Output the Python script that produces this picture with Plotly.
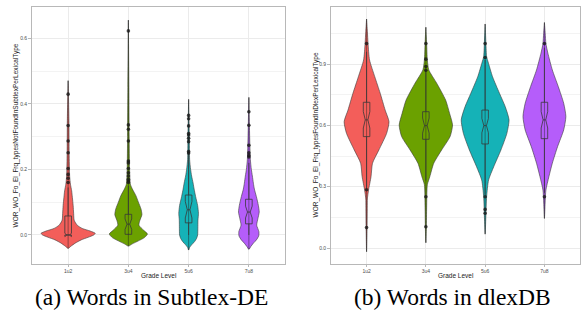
import plotly.graph_objects as go

W, H = 587, 327

grades = ["1u2", "3u4", "5u6", "7u8"]
fills = ["#F35E5A", "#6BA100", "#15B2B7", "#B55DFA"]

# ---- (a) share of word types not found in Subtlex-DE ----
# violin outlines: value and kernel density (arbitrary units)
sub_v_1u2 = [-0.041, -0.035, -0.025, -0.015, -0.007, 0.0, 0.005, 0.012, 0.02, 0.03, 0.045, 0.065, 0.09, 0.115, 0.135, 0.155, 0.18, 0.25, 0.35, 0.471]
sub_d_1u2 = [0, 2.5, 7, 13, 20, 25.5, 27, 22, 14, 9, 6, 5.5, 5, 4.2, 3.5, 2.3, 1.5, 1, 0.8, 0]
sub_v_3u4 = [-0.034, -0.027, -0.018, -0.008, 0.003, 0.015, 0.03, 0.045, 0.062, 0.08, 0.1, 0.12, 0.14, 0.155, 0.2, 0.3, 0.45, 0.656]
sub_d_3u4 = [0, 4, 10, 16, 19, 15, 10.5, 11.5, 13.5, 12.5, 10, 7.5, 4, 2, 1.2, 0.8, 0.5, 0]
sub_v_5u6 = [-0.046, -0.038, -0.03, -0.02, -0.01, 0.0, 0.02, 0.045, 0.066, 0.09, 0.117, 0.14, 0.158, 0.18, 0.2, 0.23, 0.3, 0.414]
sub_d_5u6 = [0, 1, 3, 6, 8, 9, 9.2, 9.3, 9.8, 9, 7, 5.5, 4.5, 3, 2, 1, 0.7, 0]
sub_v_7u8 = [-0.044, -0.035, -0.025, -0.015, -0.003, 0.01, 0.03, 0.05, 0.07, 0.09, 0.117, 0.14, 0.158, 0.18, 0.2, 0.23, 0.3, 0.42]
sub_d_7u8 = [0, 2, 4.5, 7.5, 9.8, 10, 7.8, 9, 10.3, 9.5, 7.5, 5.5, 4.5, 3.5, 2.5, 1.5, 0.8, 0]

# notched box statistics
sub_q1 = [0.0, 0.002, 0.037, 0.034]
sub_med = [0.0, 0.033, 0.077, 0.070]
sub_q3 = [0.058, 0.063, 0.122, 0.109]
sub_lo = [0.0, 0.0, 0.0, 0.0]
sub_hi = [0.145, 0.15, 0.25, 0.22]
sub_notch = [0.005, 0.016, 0.025, 0.018]

# outliers
sub_out_1u2 = [0.16, 0.173, 0.185, 0.203, 0.251, 0.287, 0.334, 0.43]
sub_out_3u4 = [0.16, 0.165, 0.17, 0.18, 0.19, 0.203, 0.22, 0.226, 0.287, 0.323, 0.336, 0.623]
sub_out_5u6 = [0.25, 0.255, 0.285, 0.295, 0.305, 0.31, 0.333, 0.355, 0.365]
sub_out_7u8 = [0.238, 0.243, 0.251, 0.274, 0.335, 0.376]

# ---- (b) share of word types found in dlexDB ----
dlx_v_1u2 = [-0.018, 0.1, 0.2, 0.24, 0.284, 0.349, 0.415, 0.48, 0.561, 0.618, 0.675, 0.757, 0.838, 0.92, 1.0, 1.06, 1.12]
dlx_d_1u2 = [0, 0.5, 0.7, 0.8, 2, 4.5, 6, 12.5, 20.3, 22.7, 18.8, 13.8, 8.3, 3, 1.5, 0.8, 0]
dlx_v_3u4 = [0.026, 0.1, 0.2, 0.31, 0.349, 0.415, 0.48, 0.545, 0.602, 0.659, 0.724, 0.806, 0.871, 0.92, 1.0, 1.08]
dlx_d_3u4 = [0, 0.5, 0.8, 1.5, 4, 8, 16, 24.5, 27, 24, 20, 11, 3, 1.5, 0.8, 0]
dlx_v_5u6 = [0.068, 0.15, 0.251, 0.333, 0.398, 0.48, 0.561, 0.627, 0.692, 0.757, 0.838, 0.91, 0.936, 1.0, 1.096]
dlx_d_5u6 = [0, 0.7, 1.5, 3.5, 8.7, 16, 22, 24.2, 20.3, 14.5, 7.5, 3, 1.5, 0.8, 0]
dlx_v_7u8 = [0.145, 0.22, 0.284, 0.349, 0.415, 0.496, 0.578, 0.643, 0.708, 0.79, 0.871, 0.953, 1.0, 1.05, 1.103]
dlx_d_7u8 = [0, 0.7, 1.5, 4.5, 8, 13.3, 19.5, 21.7, 19.5, 14, 8, 3.5, 1.5, 0.8, 0]

dlx_q1 = [0.545, 0.532, 0.509, 0.535]
dlx_med = [0.627, 0.599, 0.599, 0.627]
dlx_q3 = [0.713, 0.667, 0.675, 0.713]
dlx_lo = [0.293, 0.33, 0.26, 0.27]
dlx_hi = [0.96, 0.87, 0.92, 0.98]
dlx_notch = [0.04, 0.037, 0.035, 0.04]

dlx_out_1u2 = [0.1, 0.285, 1.0]
dlx_out_3u4 = [0.104, 0.251, 0.87, 0.888, 0.924, 1.0]
dlx_out_5u6 = [0.17, 0.189, 0.251, 0.932, 1.0]
dlx_out_7u8 = [0.251, 1.0]

DENS_SCALE = 1 / 60.0      # density units -> category-axis units
BOX_HALF = 0.055           # half width of the notched box, category units
NOTCH_DEPTH = 0.4          # notch indent as a fraction of the box half width

panels = [
    dict(ax="x", ay="y",
         vals=[sub_v_1u2, sub_v_3u4, sub_v_5u6, sub_v_7u8],
         dens=[sub_d_1u2, sub_d_3u4, sub_d_5u6, sub_d_7u8],
         q1=sub_q1, med=sub_med, q3=sub_q3, lo=sub_lo, hi=sub_hi, notch=sub_notch,
         outs=[sub_out_1u2, sub_out_3u4, sub_out_5u6, sub_out_7u8]),
    dict(ax="x2", ay="y2",
         vals=[dlx_v_1u2, dlx_v_3u4, dlx_v_5u6, dlx_v_7u8],
         dens=[dlx_d_1u2, dlx_d_3u4, dlx_d_5u6, dlx_d_7u8],
         q1=dlx_q1, med=dlx_med, q3=dlx_q3, lo=dlx_lo, hi=dlx_hi, notch=dlx_notch,
         outs=[dlx_out_1u2, dlx_out_3u4, dlx_out_5u6, dlx_out_7u8]),
]

fig = go.Figure()
edge = "#383838"

for p in panels:
    for i, g in enumerate(grades):
        cx = i + 1
        v, d = p["vals"][i], p["dens"][i]
        xs = [cx + w * DENS_SCALE for w in d] + [cx - w * DENS_SCALE for w in reversed(d)]
        ys = list(v) + list(reversed(v))
        fig.add_trace(go.Scatter(
            x=xs, y=ys, mode="lines", fill="toself", fillcolor=fills[i],
            line=dict(color="#3a3a3a", width=0.6, shape="spline", smoothing=0.6),
            hoverinfo="skip", xaxis=p["ax"], yaxis=p["ay"]))
        # full-range spine through the violin
        fig.add_trace(go.Scatter(
            x=[cx, cx], y=[v[0], v[-1]], mode="lines",
            line=dict(color="rgba(30,30,30,0.6)", width=0.75),
            hoverinfo="skip", xaxis=p["ax"], yaxis=p["ay"]))

        # notched box with whiskers
        q1, md, q3 = p["q1"][i], p["med"][i], p["q3"][i]
        lo, hi, nh = p["lo"][i], p["hi"][i], p["notch"][i]
        b, n = BOX_HALF, BOX_HALF * NOTCH_DEPTH
        bx = [cx - b, cx + b, cx + b, cx + n, cx + b, cx + b,
              cx - b, cx - b, cx - n, cx - b, cx - b]
        by = [q1, q1, md - nh, md, md + nh, q3,
              q3, md + nh, md, md - nh, q1]
        fig.add_trace(go.Scatter(
            x=bx, y=by, mode="lines", line=dict(color=edge, width=0.8),
            hoverinfo="skip", xaxis=p["ax"], yaxis=p["ay"]))
        fig.add_trace(go.Scatter(
            x=[cx - n, cx + n, None, cx, cx, None, cx, cx],
            y=[md, md, None, q3, hi, None, q1, lo],
            mode="lines", line=dict(color=edge, width=0.8),
            hoverinfo="skip", xaxis=p["ax"], yaxis=p["ay"]))

        fig.add_trace(go.Scatter(
            x=[cx] * len(p["outs"][i]), y=p["outs"][i], mode="markers",
            marker=dict(size=3.6, color="rgba(25,25,25,0.8)"),
            xaxis=p["ax"], yaxis=p["ay"]))

grid = "#ebebeb"
frame = "#b8b8b8"
tickfont = dict(family="Liberation Sans, Arial", size=5, color="#4d4d4d")

def xaxis(domain):
    return dict(domain=domain, range=[0.4, 4.6], tickmode="array",
                tickvals=[1, 2, 3, 4], ticktext=grades, showgrid=True,
                gridcolor=grid, gridwidth=0.6, zeroline=False, showline=True,
                mirror=True, linecolor=frame, linewidth=0.8, ticks="outside",
                ticklen=2, tickwidth=0.6, tickcolor=frame, tickfont=tickfont)

def yaxis(rng, dtick, anchor):
    return dict(domain=[1 - 264 / H, 1 - 7 / H], range=rng, tick0=0, dtick=dtick,
                tickformat=".1f", showgrid=True, gridcolor=grid, gridwidth=0.6,
                minor=dict(dtick=dtick / 2, tick0=0, showgrid=True, gridcolor="#f3f3f3",
                           gridwidth=0.5),
                zeroline=False, showline=True, mirror=True, linecolor=frame,
                linewidth=0.8, ticks="outside", ticklen=3, tickwidth=0.6,
                tickcolor=frame, tickfont=tickfont, anchor=anchor)

fig.update_layout(
    width=W, height=H, autosize=False,
    margin=dict(l=0, r=0, t=0, b=0),
    paper_bgcolor="white", plot_bgcolor="white",
    showlegend=False,
    xaxis=xaxis([32 / W, 285 / W]) | dict(anchor="y"),
    yaxis=yaxis([-0.0886, 0.696], 0.2, "x"),
    xaxis2=xaxis([331 / W, 580 / W]) | dict(anchor="y2"),
    yaxis2=yaxis([-0.078, 1.179], 0.3, "x2"),
)

title_font = dict(family="Liberation Sans, Arial", size=6.5, color="#222222")
caption_font = dict(family="Liberation Serif, Times New Roman, serif", size=23.5, color="black")
mid_y = 1 - 135.5 / H
annotations = [
    dict(text="WOR_WO_Fo_El_Frq_typesNotFoundInSubtlexPerLexicalType",
         x=16 / W, y=mid_y, textangle=-90, font=title_font),
    dict(text="WOR_WO_Fo_El_Frq_typesFoundInDlexPerLexicalType",
         x=316 / W, y=mid_y, textangle=-90, font=title_font),
    dict(text="Grade Level", x=158.5 / W, y=1 - 275.5 / H, font=title_font),
    dict(text="Grade Level", x=455.5 / W, y=1 - 275.5 / H, font=title_font),
    dict(text="(a) Words in Subtlex-DE", x=151.5 / W, y=1 - 297 / H, font=caption_font),
    dict(text="(b) Words in dlexDB", x=452 / W, y=1 - 297 / H, font=caption_font),
]
for a in annotations:
    a.update(xref="paper", yref="paper", showarrow=False,
             xanchor="center", yanchor="middle")
fig.update_layout(annotations=annotations)

fig.write_html("out.html")
